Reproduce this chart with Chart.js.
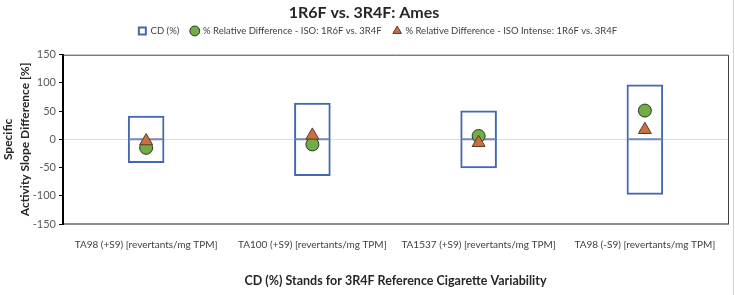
<!DOCTYPE html>
<html><head><meta charset="utf-8">
<script src="https://cdn.jsdelivr.net/npm/chart.js@4.4.1/dist/chart.umd.min.js"></script>
<style>html,body{margin:0;padding:0;background:#fff}#wrap{width:735px;height:295px;position:relative}</style>
</head><body><div id="wrap"><canvas id="c" width="735" height="295"></canvas></div>
<script>
const categories = ["TA98 (+S9) [revertants/mg TPM]", "TA100 (+S9) [revertants/mg TPM]", "TA1537 (+S9) [revertants/mg TPM]", "TA98 (-S9) [revertants/mg TPM]"];
const cdLow = [-42, -65, -51, -98];
const cdHigh = [42, 65, 51, 97];
const cdMid = [0, 0, 0, 0];
const relDiffISO = [-15, -9, 6, 51];
const relDiffIntense = [-3, 7, -6, 17];
const yTicks = [-150, -100, -50, 0, 50, 100, 150];

const FONT = "Lato, 'Liberation Sans', sans-serif";
const BOX = '#4468B0';
const GREEN = '#70AD47';
const ORANGE = '#C8703F';

const frame = {
  id: 'frame',
  afterInit(chart) {
    const lg = chart.legend;
    if (lg && !lg._shifted) {
      const orig = lg.draw.bind(lg);
      lg.draw = function () { const ctx = chart.ctx; ctx.save(); ctx.translate(14, -9); orig(); ctx.restore(); };
      lg._shifted = true;
    }
  },
  afterDatasetsDraw(chart) {
    const a = chart.chartArea, ctx = chart.ctx;
    ctx.save();
    ctx.strokeStyle = '#404040'; ctx.lineWidth = 1;
    ctx.beginPath();
    ctx.moveTo(a.left, a.top + 0.5); ctx.lineTo(a.right + 0.5, a.top + 0.5); ctx.lineTo(a.right + 0.5, a.bottom);
    ctx.stroke();
    ctx.strokeStyle = '#D0D0D0';
    ctx.beginPath(); ctx.moveTo(733.5, 0); ctx.lineTo(733.5, 295); ctx.stroke();
    ctx.restore();
  }
};

new Chart(document.getElementById('c'), {
  data: {
    labels: categories,
    datasets: [
      { type: 'bar', label: 'CD (%)', data: cdLow.map((v, i) => [v, cdHigh[i]]), backgroundColor: 'rgba(0,0,0,0)', borderColor: BOX, borderWidth: 2, borderSkipped: false, barPercentage: 0.22, categoryPercentage: 1, order: 4 },
      { type: 'line', label: 'CD mid', data: cdMid, showLine: false, pointStyle: 'line', pointRadius: 17, pointHoverRadius: 17, borderColor: '#7388B8', borderWidth: 2, order: 3 },
      { type: 'line', label: '% Relative Difference - ISO: 1R6F vs. 3R4F', data: relDiffISO, showLine: false, pointStyle: 'circle', pointRadius: 6.5, pointHoverRadius: 6.5, backgroundColor: GREEN, borderColor: '#2A3A1C', borderWidth: 1, order: 2 },
      { type: 'line', label: '% Relative Difference - ISO Intense: 1R6F vs. 3R4F', data: relDiffIntense, showLine: false, pointStyle: 'triangle', pointRadius: 7.5, pointHoverRadius: 7.5, backgroundColor: ORANGE, borderColor: '#5A3A28', borderWidth: 1, order: 1 }
    ]
  },
  options: {
    responsive: false, animation: false,
    layout: { autoPadding: false, padding: { left: 0, right: 7, top: 0, bottom: 0 } },
    plugins: {
      tooltip: { enabled: false },
      title: { display: true, text: '1R6F vs. 3R4F: Ames', color: '#262626', font: { family: FONT, size: 16, weight: 'bold' }, padding: { top: 3, bottom: 1 } },
      legend: {
        display: true, position: 'top',
        labels: {
          font: { family: FONT, size: 9.5 }, color: '#404040', usePointStyle: true, boxWidth: 7, boxHeight: 7, padding: 12,
          generateLabels(chart) {
            return [
              { text: 'CD (%)', pointStyle: 'rect', fillStyle: '#fff', strokeStyle: BOX, lineWidth: 2, datasetIndex: 0, fontColor: '#404040' },
              { text: '% Relative Difference - ISO: 1R6F vs. 3R4F', pointStyle: 'circle', fillStyle: GREEN, strokeStyle: '#2A3A1C', lineWidth: 1, datasetIndex: 2, fontColor: '#404040' },
              { text: '% Relative Difference - ISO Intense: 1R6F vs. 3R4F', pointStyle: 'triangle', fillStyle: ORANGE, strokeStyle: '#5A3A28', lineWidth: 1, datasetIndex: 3, fontColor: '#404040' }
            ];
          }
        }
      }
    },
    scales: {
      x: {
        type: 'category',
        grid: { display: false },
        border: { display: true, color: '#8C8C8C', width: 2 },
        ticks: { font: { family: FONT, size: 10 }, color: '#404040', maxRotation: 0, autoSkip: false, padding: 7 },
        title: { display: true, text: 'CD (%) Stands for 3R4F Reference Cigarette Variability', color: '#262626', font: { family: FONT, size: 12.5, weight: 'bold' }, padding: { top: 15, bottom: 7 } },
        afterFit(s) { s.height = 71; s.paddingLeft = 0; s.paddingRight = 0; }
      },
      y: {
        type: 'linear', min: -150, max: 150,
        afterBuildTicks(s) { s.ticks = yTicks.map(v => ({ value: v })); },
        grid: { drawOnChartArea: true, color: c => (c.tick && c.tick.value === 0) ? '#D9DDE6' : 'rgba(0,0,0,0)', tickColor: '#000', tickLength: 4, lineWidth: 1 },
        border: { display: true, color: '#000', width: 2 },
        ticks: { font: { family: FONT, size: 11 }, color: '#595959', padding: 3 },
        title: { display: true, text: ['Specific', 'Activity Slope Difference [%]'], color: '#262626', font: { family: FONT, size: 12, weight: 'bold', lineHeight: 1.4 }, padding: { top: 0, bottom: 2 } },
        afterFit(s) { s.width = 63; }
      }
    }
  },
  plugins: [frame]
});
</script></body></html>
